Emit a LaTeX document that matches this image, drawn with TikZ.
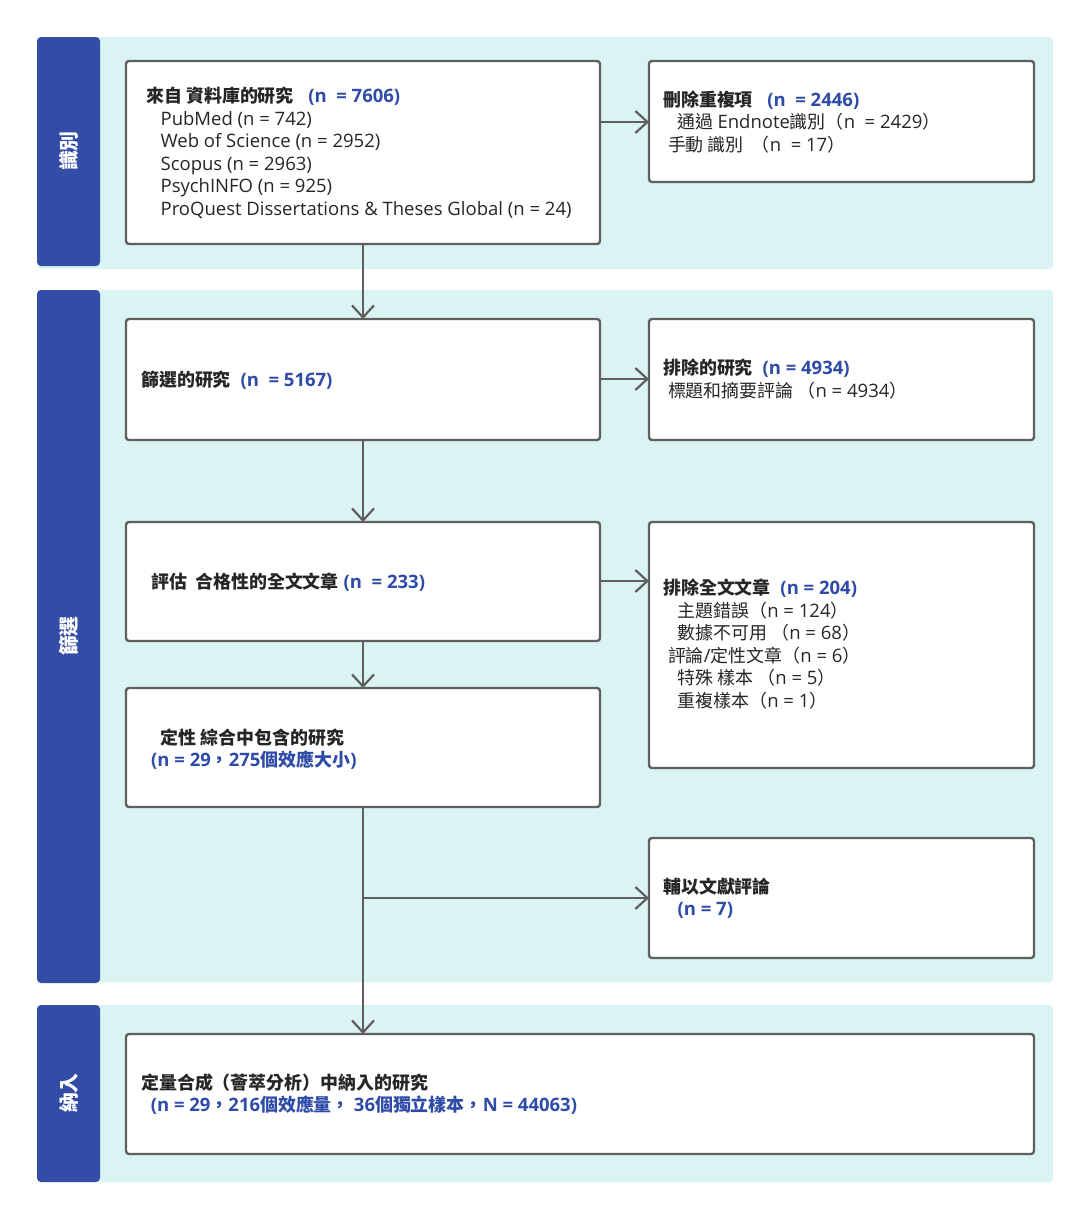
\documentclass[tikz,border=0pt]{standalone}
\usepackage{fontspec}
\setmainfont{Open Sans}
\newfontfamily\cjk[Scale=0.97]{Noto Sans CJK TC}
\newfontfamily\lat{Open Sans}
\XeTeXinterchartokenstate=1
\newXeTeXintercharclass\cjkclass
\count255="4E00
\loop\XeTeXcharclass\count255=\cjkclass\advance\count255 by 1\ifnum\count255<"A000\repeat
\count255="3000
\loop\XeTeXcharclass\count255=\cjkclass\advance\count255 by 1\ifnum\count255<"3040\repeat
\count255="FF00
\loop\XeTeXcharclass\count255=\cjkclass\advance\count255 by 1\ifnum\count255<"FFF0\repeat
\XeTeXinterchartoks 0 \cjkclass = {\cjk}
\XeTeXinterchartoks 4095 \cjkclass = {\cjk}
\XeTeXinterchartoks \cjkclass 0 = {\lat}
\XeTeXinterchartoks 4095 0 = {\lat}
\usetikzlibrary{arrows.meta}
\definecolor{band}{HTML}{DAF4F3}
\definecolor{side}{HTML}{334CA6}
\definecolor{edge}{HTML}{5F5F5F}
\definecolor{nb}{HTML}{2F4BA8}
\begin{document}
\begin{tikzpicture}[x=1pt,y=-1pt,
  bandbox/.style={fill=band,draw=none,rounded corners=3},
  sidebox/.style={fill=side,draw=none,rounded corners=4},
  sidetxt/.style={text=white,font=\bfseries\fontsize{20.5}{22}\selectfont,rotate=90},
  mbox/.style={fill=white,draw=edge,line width=2.4pt,rounded corners=3},
  txt/.style={anchor=west,align=left,inner sep=0,font=\fontsize{18.5}{22.5}\selectfont,text=black!85},
  arr/.style={draw=edge,line width=2.3pt,-{Straight Barb[length=12pt,width=22pt,line width=2.2pt]}}]
\useasboundingbox (0,0) rectangle (1089,1219);
\newcommand{\nn}[1]{\textcolor{nb}{\bfseries #1}}
% bands
\fill[bandbox] (38,37) rectangle (1053,269);
\fill[bandbox] (38,290) rectangle (1053,982);
\fill[bandbox] (38,1005) rectangle (1053,1182);
\fill[sidebox] (37,37) rectangle (100,266);
\fill[sidebox] (37,290) rectangle (100,983);
\fill[sidebox] (37,1005) rectangle (100,1182);
\node[sidetxt] (s1) at (68.5,151) {識別};
\node[sidetxt] (s2) at (68.5,636) {篩選};
\node[sidetxt] (s3) at (68.5,1093) {納入};
% boxes
\draw[mbox] (126,61) rectangle (600,244);
\draw[mbox] (649,61) rectangle (1034,182);
\draw[mbox] (126,319) rectangle (600,440);
\draw[mbox] (649,319) rectangle (1034,440);
\draw[mbox] (126,522) rectangle (600,641);
\draw[mbox] (649,522) rectangle (1034,768);
\draw[mbox] (126,688) rectangle (600,807);
\draw[mbox] (649,838) rectangle (1034,958);
\draw[mbox] (126,1034) rectangle (1034,1154);
\coordinate (b1r) at (600,122); \coordinate (b2l) at (649,122);
\coordinate (b1b) at (363,244); \coordinate (b3t) at (363,319);
\coordinate (b3r) at (600,379); \coordinate (b4l) at (649,379);
\coordinate (b3b) at (363,440); \coordinate (b5t) at (363,522);
\coordinate (b5r) at (600,581); \coordinate (b6l) at (649,581);
\coordinate (b5b) at (363,641); \coordinate (b7t) at (363,688);
\coordinate (b7b) at (363,807); \coordinate (b9t) at (363,1034);
\coordinate (br) at (363,898); \coordinate (b8l) at (649,898);
\draw[arr] (b1r) -- (b2l);
\draw[arr] (b1b) -- (b3t);
\draw[arr] (b3r) -- (b4l);
\draw[arr] (b3b) -- (b5t);
\draw[arr] (b5r) -- (b6l);
\draw[arr] (b5b) -- (b7t);
\draw[arr] (b7b) -- (b9t);
\draw[arr] (br) -- (b8l);
% texts
\node[txt] (t1) at (146,153) {\textbf{來自 資料庫的研究}\ \ \ \nn{(n\ \ = 7606)}\\
\ \ \ PubMed (n = 742)\\\ \ \ Web of Science (n = 2952)\\\ \ \ Scopus (n = 2963)\\\ \ \ PsychINFO (n = 925)\\\ \ \ ProQuest Dissertations \& Theses Global (n = 24)};
\node[txt] (t2) at (663,122) {\textbf{刪除重複項}\ \ \ \nn{(n\ \ = 2446)}\\\ \ \ 通過 Endnote識別（n\ \ = 2429）\\\ 手動 識別\ \ （n\ \ = 17）};
\node[txt] (t3) at (141,380) {\textbf{篩選的研究}\ \ \nn{(n\ \ = 5167)}};
\node[txt] (t4) at (663,379) {\textbf{排除的研究}\ \ \nn{(n = 4934)}\\\ 標題和摘要評論\ （n = 4934）};
\node[txt] (t5) at (151,582) {\textbf{評估\ \ 合格性的全文文章}\ \nn{(n\ \ = 233)}};
\node[txt] (t6) at (663,644) {\textbf{排除全文文章}\ \ \nn{(n = 204)}\\
\ \ \ 主題錯誤（n = 124）\\\ \ \ 數據不可用\ （n = 68）\\\ 評論/定性文章（n = 6）\\\ \ \ 特殊 樣本\ （n = 5）\\\ \ \ 重複樣本（n = 1）};
\node[txt] (t7) at (151,749) {\ \ \textbf{定性 綜合中包含的研究}\\\nn{(n = 29，275個效應大小)}};
\node[txt] (t8) at (663,898) {\textbf{輔以文獻評論}\\\ \ \ \nn{(n = 7)}};
\node[txt] (t9) at (141,1094) {\textbf{定量合成（薈萃分析）中納入的研究}\\\ \ \nn{(n = 29，216個效應量，\ 36個獨立樣本，N = 44063)}};
\end{tikzpicture}
\end{document}
